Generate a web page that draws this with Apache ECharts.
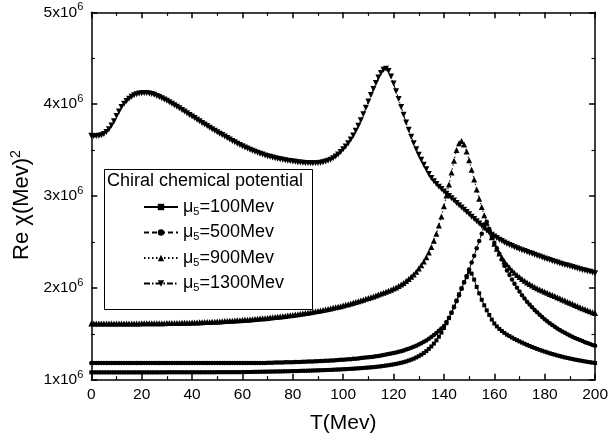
<!DOCTYPE html>
<html>
<head>
<meta charset="utf-8">
<script src="https://cdn.jsdelivr.net/npm/echarts@6/dist/echarts.min.js"></script>
<style>
  html, body { margin: 0; padding: 0; background: #fff; }
  #chart { width: 611px; height: 441px; }
</style>
</head>
<body>
<div id="chart"></div>
<script>
// Temperature grid: T = 0 .. 200 MeV in 1 MeV steps
const T_START = 0;
const T_STEP = 1;

// Re chi in units of 10^6 (MeV)^2, one value per temperature step
const mu100 = [
  1.080,1.080,1.080,1.080,1.080,1.080,1.080,1.080,1.080,1.080,
  1.080,1.080,1.080,1.080,1.080,1.080,1.080,1.080,1.080,1.080,
  1.080,1.080,1.080,1.080,1.080,1.080,1.080,1.080,1.080,1.080,
  1.081,1.081,1.081,1.081,1.081,1.081,1.081,1.081,1.081,1.081,
  1.081,1.081,1.081,1.081,1.081,1.081,1.081,1.081,1.081,1.081,
  1.082,1.082,1.082,1.082,1.082,1.082,1.082,1.082,1.082,1.082,
  1.083,1.083,1.084,1.084,1.085,1.085,1.086,1.086,1.087,1.087,
  1.088,1.088,1.089,1.089,1.090,1.090,1.091,1.092,1.092,1.093,
  1.094,1.094,1.095,1.096,1.097,1.097,1.098,1.099,1.100,1.101,
  1.102,1.103,1.104,1.105,1.106,1.107,1.108,1.110,1.111,1.112,
  1.114,1.115,1.117,1.118,1.120,1.122,1.124,1.126,1.128,1.130,
  1.132,1.135,1.137,1.140,1.143,1.146,1.150,1.154,1.158,1.162,
  1.167,1.172,1.178,1.184,1.191,1.199,1.208,1.218,1.229,1.242,
  1.256,1.272,1.290,1.311,1.335,1.362,1.393,1.428,1.468,1.513,
  1.563,1.615,1.670,1.730,1.795,1.862,1.930,1.995,2.060,2.115,
  2.175,2.155,2.090,2.010,1.940,1.870,1.810,1.755,1.705,1.655,
  1.612,1.580,1.553,1.530,1.509,1.490,1.475,1.459,1.444,1.430,
  1.417,1.404,1.391,1.379,1.367,1.356,1.345,1.335,1.325,1.315,
  1.306,1.297,1.288,1.280,1.272,1.264,1.257,1.250,1.243,1.237,
  1.231,1.225,1.219,1.214,1.209,1.204,1.199,1.194,1.190,1.186,
  1.182
];

const mu500 = [
  1.182,1.182,1.182,1.182,1.182,1.182,1.182,1.182,1.182,1.182,
  1.182,1.182,1.182,1.182,1.182,1.182,1.182,1.182,1.182,1.182,
  1.182,1.182,1.182,1.182,1.182,1.182,1.182,1.182,1.182,1.182,
  1.182,1.182,1.182,1.182,1.182,1.182,1.182,1.182,1.182,1.182,
  1.182,1.182,1.182,1.182,1.182,1.182,1.182,1.182,1.182,1.182,
  1.182,1.182,1.182,1.182,1.182,1.182,1.182,1.182,1.182,1.182,
  1.183,1.183,1.183,1.183,1.183,1.183,1.183,1.183,1.183,1.183,
  1.184,1.185,1.185,1.186,1.187,1.187,1.188,1.189,1.190,1.190,
  1.191,1.192,1.193,1.194,1.195,1.196,1.197,1.198,1.199,1.200,
  1.202,1.203,1.204,1.206,1.207,1.209,1.210,1.212,1.214,1.216,
  1.218,1.220,1.222,1.224,1.227,1.229,1.232,1.235,1.238,1.241,
  1.244,1.248,1.251,1.255,1.259,1.264,1.268,1.273,1.279,1.284,
  1.290,1.297,1.304,1.311,1.319,1.328,1.337,1.347,1.358,1.370,
  1.383,1.397,1.412,1.428,1.446,1.465,1.486,1.508,1.532,1.558,
  1.585,1.627,1.675,1.730,1.790,1.855,1.920,1.990,2.060,2.130,
  2.200,2.275,2.350,2.430,2.510,2.590,2.690,2.720,2.640,2.560,
  2.490,2.430,2.370,2.310,2.240,2.190,2.140,2.090,2.045,2.000,
  1.960,1.920,1.885,1.850,1.820,1.790,1.760,1.733,1.707,1.682,
  1.658,1.636,1.615,1.595,1.576,1.558,1.541,1.525,1.510,1.495,
  1.481,1.468,1.455,1.443,1.431,1.420,1.409,1.399,1.389,1.379,
  1.370
];

const mu900 = [
  1.613,1.613,1.613,1.613,1.613,1.613,1.613,1.613,1.613,1.613,
  1.613,1.613,1.613,1.613,1.613,1.613,1.613,1.613,1.613,1.613,
  1.614,1.614,1.614,1.614,1.614,1.614,1.614,1.614,1.614,1.614,
  1.616,1.616,1.617,1.617,1.618,1.618,1.619,1.620,1.620,1.621,
  1.622,1.623,1.624,1.625,1.626,1.627,1.628,1.629,1.631,1.632,
  1.633,1.635,1.636,1.638,1.639,1.641,1.643,1.644,1.646,1.648,
  1.650,1.652,1.654,1.656,1.658,1.661,1.663,1.665,1.668,1.670,
  1.673,1.676,1.679,1.682,1.685,1.688,1.691,1.694,1.698,1.701,
  1.705,1.709,1.713,1.717,1.721,1.725,1.729,1.734,1.739,1.744,
  1.749,1.754,1.759,1.765,1.770,1.776,1.782,1.788,1.795,1.801,
  1.808,1.815,1.822,1.830,1.838,1.846,1.854,1.862,1.871,1.880,
  1.889,1.898,1.907,1.916,1.927,1.939,1.948,1.958,1.968,1.980,
  1.992,2.005,2.020,2.036,2.054,2.074,2.096,2.120,2.146,2.176,
  2.210,2.246,2.287,2.333,2.385,2.445,2.513,2.590,2.678,2.777,
  2.888,3.005,3.125,3.255,3.385,3.500,3.575,3.600,3.560,3.485,
  3.390,3.285,3.180,3.070,2.970,2.880,2.790,2.710,2.635,2.550,
  2.480,2.425,2.375,2.330,2.290,2.255,2.222,2.192,2.165,2.140,
  2.117,2.096,2.076,2.058,2.041,2.025,2.010,1.996,1.983,1.970,
  1.958,1.946,1.934,1.922,1.910,1.898,1.886,1.874,1.862,1.850,
  1.838,1.826,1.814,1.802,1.790,1.778,1.766,1.755,1.744,1.735,
  1.725
];

const mu1300 = [
  3.655,3.652,3.652,3.655,3.662,3.675,3.697,3.728,3.768,3.815,
  3.870,3.920,3.970,4.005,4.035,4.060,4.080,4.096,4.108,4.116,
  4.120,4.122,4.121,4.117,4.110,4.101,4.090,4.077,4.063,4.050,
  4.036,4.021,4.005,3.989,3.972,3.955,3.937,3.919,3.900,3.882,
  3.865,3.848,3.831,3.813,3.795,3.778,3.761,3.744,3.727,3.711,
  3.695,3.679,3.663,3.647,3.631,3.615,3.600,3.585,3.570,3.556,
  3.542,3.529,3.516,3.504,3.492,3.481,3.470,3.460,3.451,3.442,
  3.434,3.426,3.419,3.412,3.406,3.400,3.395,3.390,3.385,3.380,
  3.376,3.372,3.368,3.365,3.362,3.360,3.358,3.357,3.357,3.358,
  3.360,3.363,3.368,3.375,3.384,3.396,3.411,3.430,3.453,3.480,
  3.510,3.540,3.575,3.615,3.660,3.710,3.765,3.825,3.890,3.960,
  4.030,4.100,4.165,4.230,4.290,4.340,4.375,4.385,4.360,4.300,
  4.225,4.140,4.055,3.970,3.885,3.800,3.720,3.645,3.575,3.510,
  3.450,3.395,3.340,3.290,3.240,3.195,3.160,3.130,3.100,3.075,
  3.050,3.025,3.000,2.975,2.950,2.925,2.900,2.875,2.850,2.825,
  2.800,2.775,2.750,2.725,2.700,2.675,2.650,2.625,2.600,2.578,
  2.560,2.542,2.525,2.509,2.494,2.480,2.467,2.455,2.443,2.432,
  2.421,2.410,2.400,2.390,2.380,2.370,2.360,2.350,2.340,2.330,
  2.320,2.311,2.302,2.293,2.284,2.275,2.266,2.258,2.250,2.242,
  2.234,2.226,2.218,2.210,2.202,2.195,2.188,2.181,2.174,2.167,
  2.160
];

const seriesNames = ['100Mev', '500Mev', '900Mev', '1300Mev'];
const legendTitle = 'Chiral chemical potential';
const xAxisTitle = 'T(Mev)';

const FONT = '"Liberation Sans", Arial, Helvetica, sans-serif';
const BLACK = '#000';

const toPairs = vals => vals.map((v, i) => [T_START + i * T_STEP, v]);

const chart = echarts.init(document.getElementById('chart'), null, { renderer: 'canvas' });

const axisCommon = {
  axisLine: { show: true, onZero: false, lineStyle: { color: BLACK, width: 1.5 } },
  axisTick: { show: true, inside: true, length: 6, lineStyle: { color: BLACK, width: 1.5 } },
  minorTick: { show: true, splitNumber: 2, length: 3.5, lineStyle: { color: BLACK, width: 1.2 } },
  splitLine: { show: false },
  minorSplitLine: { show: false }
};

const xBase = Object.assign({ type: 'value', min: 0, max: 200, interval: 20, gridIndex: 0 }, axisCommon);
const yBase = Object.assign({ type: 'value', min: 1, max: 5, interval: 1, gridIndex: 0 }, axisCommon);

const invTriangle = 'path://M0,0 L10,0 L5,9 Z';

const styleOf = [
  { symbol: 'rect', size: 4, dash: 'solid' },
  { symbol: 'circle', size: 4.5, dash: [5, 3] },
  { symbol: 'triangle', size: 6, dash: [1.5, 2.5] },
  { symbol: invTriangle, size: 6, dash: [6, 2, 1.5, 2] }
];
const allValues = [mu100, mu500, mu900, mu1300];

const series = allValues.map((vals, k) => ({
  name: seriesNames[k],
  type: 'line',
  data: toPairs(vals),
  symbol: styleOf[k].symbol,
  symbolSize: styleOf[k].size,
  showSymbol: true,
  lineStyle: { color: BLACK, width: 1, type: styleOf[k].dash },
  itemStyle: { color: BLACK, borderWidth: 0 },
  emphasis: { disabled: true },
  animation: false,
  z: 3
}));

chart.setOption({
  backgroundColor: '#fff',
  animation: false,
  textStyle: { fontFamily: FONT },
  grid: { left: 91.3, right: 14, top: 12.3, bottom: 61.3 },
  xAxis: [
    Object.assign({}, xBase, {
      position: 'bottom',
      axisLabel: { color: BLACK, fontSize: 15.5, fontFamily: FONT, margin: 7 },
      name: xAxisTitle,
      nameLocation: 'middle',
      nameGap: 33,
      nameTextStyle: { color: BLACK, fontSize: 21, fontFamily: FONT }
    }),
    Object.assign({}, xBase, {
      position: 'top',
      axisLabel: { show: false }
    })
  ],
  yAxis: [
    Object.assign({}, yBase, {
      position: 'left',
      axisLabel: {
        color: BLACK, margin: 8,
        formatter: v => '{b|' + v + 'x10}{s|6}',
        rich: {
          b: { fontSize: 15.5, fontFamily: FONT, color: BLACK },
          s: { fontSize: 11, fontFamily: FONT, color: BLACK, padding: [0, 0, 10, 0] }
        }
      },
      name: '{n|Re \u03C7(Mev)}{s|2}',
      nameLocation: 'middle',
      nameGap: 48,
      nameRotate: 90,
      nameTextStyle: {
        padding: [0, 18, 0, 0],
        rich: {
          n: { fontSize: 22, fontFamily: FONT, color: BLACK },
          s: { fontSize: 14, fontFamily: FONT, color: BLACK, padding: [0, 0, 11, 0] }
        }
      }
    }),
    Object.assign({}, yBase, {
      position: 'right',
      axisLabel: { show: false }
    })
  ],
  legend: {
    orient: 'vertical',
    left: 143,
    top: 197,
    padding: 0,
    itemWidth: 34,
    itemHeight: 8,
    itemGap: 5.5,
    selectedMode: false,
    data: seriesNames,
    formatter: name => '{m|\u03BC}{sub|5}{t|=' + name + '}',
    textStyle: {
      color: BLACK,
      rich: {
        m: { fontSize: 18, fontFamily: FONT, color: BLACK, lineHeight: 20 },
        sub: { fontSize: 11, fontFamily: FONT, color: BLACK, lineHeight: 20, padding: [9, 0, 0, 0] },
        t: { fontSize: 18, fontFamily: FONT, color: BLACK, lineHeight: 20 }
      }
    }
  },
  graphic: [
    {
      type: 'rect',
      left: 102, top: 167,
      shape: { width: 208, height: 140 },
      style: { fill: 'none', stroke: BLACK, lineWidth: 1 },
      z: 10
    },
    {
      type: 'text',
      left: 107, top: 172,
      style: { text: legendTitle, font: '18px ' + FONT, fill: BLACK },
      z: 10
    }
  ],
  series: series
});
</script>
</body>
</html>
